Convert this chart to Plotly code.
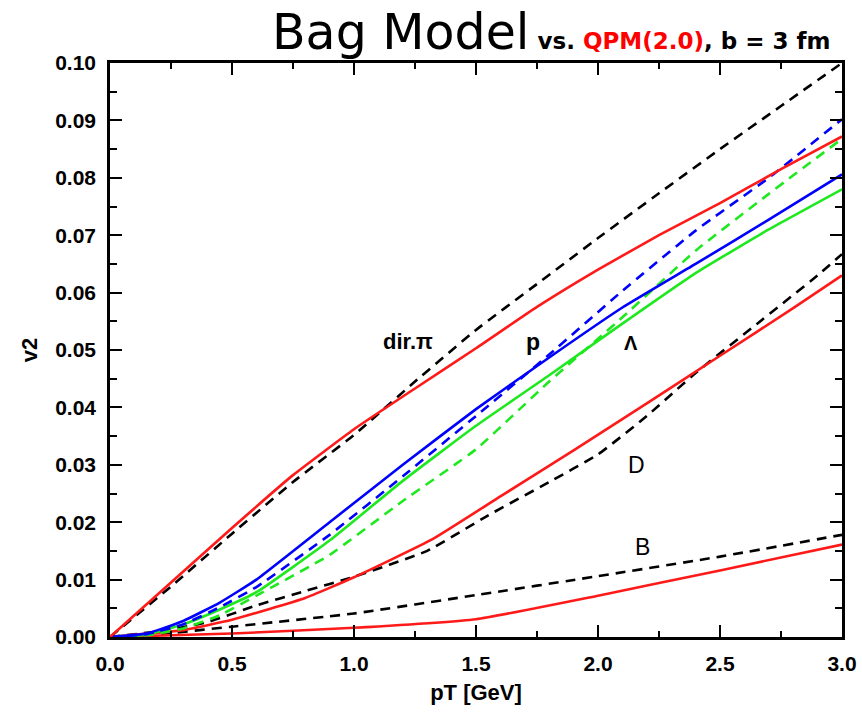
import plotly.graph_objects as go

# ---- data ----
dirpi_pt = [0, 0.25, 0.5, 0.75, 1.0, 1.25, 1.5, 1.75, 2.0, 2.25, 2.5, 2.75, 3.0]
dirpi_qpm = [0, 0.0095, 0.0190, 0.0282, 0.0362, 0.0433, 0.0503, 0.0575, 0.0640, 0.0700, 0.0756, 0.0815, 0.0872]
dirpi_bag = [0, 0.0088, 0.0180, 0.0270, 0.0352, 0.0445, 0.0535, 0.0615, 0.0695, 0.0773, 0.0850, 0.0925, 0.1000]

had_pt = [0, 0.15, 0.3, 0.45, 0.6, 0.9, 1.2, 1.5, 1.8, 2.1, 2.4, 2.7, 3.0]
p_qpm = [0, 0.0006, 0.0028, 0.0060, 0.0100, 0.0200, 0.0300, 0.0397, 0.0487, 0.0574, 0.0650, 0.0727, 0.0806]
p_bag = [0, 0.0005, 0.0022, 0.0052, 0.0087, 0.0178, 0.0280, 0.0385, 0.0492, 0.0603, 0.0708, 0.0800, 0.0902]
lam_qpm = [0, 0.0004, 0.0022, 0.0048, 0.0078, 0.0168, 0.0272, 0.0368, 0.0456, 0.0546, 0.0634, 0.0710, 0.0780]
lam_bag = [0, 0.0003, 0.0015, 0.0038, 0.0072, 0.0143, 0.0237, 0.0327, 0.0445, 0.0557, 0.0673, 0.0772, 0.0868]

d_qpm_pt = [0, 0.3, 0.5, 0.8, 1.0, 1.32, 1.6, 1.9, 2.2, 2.5, 2.8, 3.0]
d_qpm = [0, 0.0012, 0.0030, 0.0068, 0.0104, 0.0170, 0.0245, 0.0325, 0.0407, 0.0490, 0.0573, 0.0630]
d_bag_pt = [0, 0.2, 0.4, 0.6, 0.8, 1.0, 1.3, 1.55, 1.8, 2.0, 2.2, 2.4, 2.65, 2.9, 3.0]
d_bag = [0, 0.0010, 0.0026, 0.0055, 0.0080, 0.0105, 0.0150, 0.0212, 0.0270, 0.0318, 0.0385, 0.0460, 0.0545, 0.0630, 0.0667]

b_qpm_pt = [0, 0.5, 1.0, 1.5, 2.0, 2.5, 3.0]
b_qpm = [0, 0.0006, 0.0016, 0.0031, 0.0072, 0.0116, 0.0161]
b_bag_pt = [0, 0.25, 0.5, 1.0, 1.5, 2.0, 2.5, 3.0]
b_bag = [0, 0.0007, 0.0018, 0.0041, 0.0073, 0.0106, 0.0140, 0.0178]

labels = ["dir.π", "p", "Λ", "D", "B"]
label_x = [1.221, 1.734, 2.135, 2.156, 2.184]
label_y = [0.0514, 0.0514, 0.0512, 0.0300, 0.0157]

x_ticks = [0.0, 0.5, 1.0, 1.5, 2.0, 2.5, 3.0]
y_ticks = [0.00, 0.01, 0.02, 0.03, 0.04, 0.05, 0.06, 0.07, 0.08, 0.09, 0.10]

RED = "#ff1a1a"
BLUE = "#0000ff"
GREEN = "#1ee81e"
BLACK = "#000000"
LW = 2.6
DASH = "10px,7px"

fig = go.Figure()

def add(x, y, color, dash=None):
    fig.add_trace(go.Scatter(
        x=x, y=y, mode="lines", showlegend=False, hoverinfo="skip",
        line=dict(color=color, width=LW, dash=dash if dash else "solid", shape="spline", smoothing=0.4)))

add(b_bag_pt, b_bag, BLACK, DASH)
add(b_qpm_pt, b_qpm, RED)
add(d_bag_pt, d_bag, BLACK, DASH)
add(d_qpm_pt, d_qpm, RED)
add(had_pt, lam_bag, GREEN, DASH)
add(had_pt, lam_qpm, GREEN)
add(had_pt, p_bag, BLUE, DASH)
add(had_pt, p_qpm, BLUE)
add(dirpi_pt, dirpi_bag, BLACK, DASH)
add(dirpi_pt, dirpi_qpm, RED)

label_fonts = [
    dict(family="Liberation Sans, Arial", size=22, color="black", weight="bold"),
    dict(family="Liberation Sans, Arial", size=23, color="black", weight="bold"),
    dict(family="Liberation Sans, Arial", size=20, color="black", weight="bold"),
    dict(family="Liberation Sans, Arial", size=23, color="black"),
    dict(family="Liberation Sans, Arial", size=23, color="black"),
]
for t, lx, ly, f in zip(labels, label_x, label_y, label_fonts):
    fig.add_annotation(x=lx, y=ly, xref="x", yref="y", text=t, showarrow=False,
                       font=f, xanchor="center", yanchor="middle")

title_text = ("<span style='font-family:DejaVu Sans;font-size:49px'>Bag Model</span>"
              "<span style='font-family:DejaVu Sans;font-weight:bold;font-size:23px'> vs. </span>"
              "<span style='font-family:DejaVu Sans;font-weight:bold;font-size:23px;color:#ff0000'>QPM(2.0)</span>"
              "<span style='font-family:DejaVu Sans;font-weight:bold;font-size:23px'>, b = 3 fm</span>")
fig.add_annotation(x=(270 - 110) / 732, y=1.0, xref="paper", yref="paper",
                   text=title_text, showarrow=False, xanchor="left", yanchor="bottom",
                   yshift=0, font=dict(color="black"))

tickfont = dict(family="Liberation Sans, Arial", size=21, color="black", weight="bold")
titlefont = dict(family="Liberation Sans, Arial", size=22, color="black", weight="bold")

fig.update_xaxes(
    range=[0, 3], tickvals=x_ticks, ticktext=[f"{v:.1f}" for v in x_ticks],
    ticks="inside", ticklen=12, tickwidth=2, tickcolor="black",
    minor=dict(dtick=0.25, ticks="inside", ticklen=6, tickwidth=2, tickcolor="black"),
    showline=True, linewidth=2.5, linecolor="black", mirror="ticks",
    showgrid=False, zeroline=False, tickfont=tickfont, ticklabelstandoff=6,
    automargin=False,
    title=dict(text="pT [GeV]", font=titlefont, standoff=11),
)
fig.update_yaxes(
    range=[0, 0.1], tickvals=y_ticks, ticktext=[f"{v:.2f}" for v in y_ticks],
    ticks="inside", ticklen=12, tickwidth=2, tickcolor="black",
    minor=dict(dtick=0.005, ticks="inside", ticklen=7, tickwidth=2, tickcolor="black"),
    showline=True, linewidth=2.5, linecolor="black", mirror="ticks",
    showgrid=False, zeroline=False, tickfont=tickfont, ticklabelstandoff=7,
    automargin=False,
    title=dict(text="v2", font=titlefont, standoff=12),
)

fig.update_layout(
    width=862, height=721,
    margin=dict(l=110, r=20, t=63, b=84, autoexpand=False),
    plot_bgcolor="white", paper_bgcolor="white",
)

fig.write_html("out.html", config={"displayModeBar": False},
               post_script="document.body.style.margin='0px';document.body.style.padding='0px';")
